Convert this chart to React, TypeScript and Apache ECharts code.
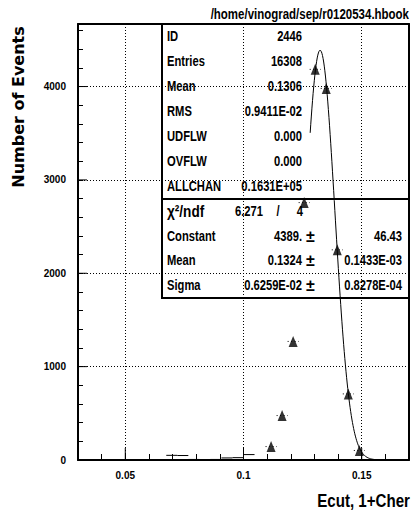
import React, { useEffect, useRef } from "react";
import * as echarts from "echarts";

// ---------- data ----------
const histMin = 0.03;
const histMax = 0.17;
const binCounts = [
  0, 0, 0, 0, 0, 0, 0, 0, 50, 48, 6, 4, 6, 22, 25, 58, 0,
  144, 476, 1270, 2757, 4184, 3980, 2251, 708, 102, 0, 0, 0, 0,
];
const markerThreshold = 100;
const xTickLabels = [0.05, 0.1, 0.15];
const yTickLabels = [0, 1000, 2000, 3000, 4000];
const yMax = 4670;

const fitConstant = 4389;
const fitMean = 0.1324;
const fitSigma = 0.006259;
const fitRange = [0.1282, 0.158];

const statsLabels = ["ID", "Entries", "Mean", "RMS", "UDFLW", "OVFLW", "ALLCHAN"];
const statsValues = ["2446", "16308", "0.1306", "0.9411E-02", "0.000", "0.000", "0.1631E+05"];
const fitLabels = ["Constant", "Mean", "Sigma"];
const fitValues = ["4389.", "0.1324", "0.6259E-02"];
const fitErrors = ["46.43", "0.1433E-03", "0.8278E-04"];
const chi2 = "6.271";
const ndf = "4";

const title = "/home/vinograd/sep/r0120534.hbook";
const xTitle = "Ecut, 1+Cher";
const yTitle = "Number of Events";

const SANS = '"Liberation Sans", Arial, Helvetica, sans-serif';
const WIDE = '"DejaVu Sans", "Liberation Sans", Arial, sans-serif';
const SQUEEZE = 0.8;

export default function App() {
  const ref = useRef<HTMLDivElement>(null);

  useEffect(() => {
    if (!ref.current) return;
    const chart = echarts.init(ref.current, undefined, { renderer: "svg" });

    const nb = binCounts.length;
    const bw = (histMax - histMin) / nb;
    const segs: any[] = [];
    const markers: any[] = [];
    binCounts.forEach((c, i) => {
      if (c <= 0) return;
      const x0 = histMin + i * bw;
      const x1 = x0 + bw;
      const big = c >= markerThreshold ? 1 : 0;
      segs.push([x0, x1, c, big]);
      if (big) markers.push([x0 + bw / 2, c]);
    });

    const fitPts: number[][] = [];
    const steps = 120;
    for (let k = 0; k <= steps; k++) {
      const x = fitRange[0] + ((fitRange[1] - fitRange[0]) * k) / steps;
      const z = (x - fitMean) / fitSigma;
      fitPts.push([x, fitConstant * Math.exp(-0.5 * z * z)]);
    }

    const gridLines: any[] = [];
    xTickLabels.forEach((v) => gridLines.push({ xAxis: v }));
    yTickLabels.filter((v) => v > 0).forEach((v) => gridLines.push({ yAxis: v }));

    const majorTicks: any[] = [];
    xTickLabels.forEach((v) => majorTicks.push([v, 0, 0]));
    yTickLabels.forEach((v) => majorTicks.push([histMin, v, 1]));

    const near = (v: number, arr: number[]) => arr.some((a) => Math.abs(a - v) < 1e-6);

    // stats box geometry (annotation layout)
    const bx = 162, bTop = 24, bDiv = 199, bBot = 298, bRight = 409;
    const rowH1 = (bDiv - bTop) / statsLabels.length;
    const rowH2 = (bBot - bDiv) / (fitLabels.length + 1);
    const txt = (x: number, y: number, text: string, align: string, size = 14, sx = SQUEEZE) => ({
      type: "text",
      x,
      y,
      scaleX: sx,
      silent: true,
      style: {
        text,
        fill: "#000",
        font: `bold ${size}px ${SANS}`,
        textAlign: align,
        textVerticalAlign: "middle",
      },
    });
    const graphics: any[] = [];
    graphics.push({
      type: "polyline",
      silent: true,
      shape: { points: [[bx, bTop], [bx, bBot], [bRight, bBot]] },
      style: { stroke: "#000", lineWidth: 2, fill: null },
    });
    graphics.push({
      type: "line",
      silent: true,
      shape: { x1: bx, y1: bDiv, x2: bRight, y2: bDiv },
      style: { stroke: "#000", lineWidth: 2 },
    });
    statsLabels.forEach((l, i) => {
      const y = bTop + rowH1 * (i + 0.5);
      graphics.push(txt(167, y, l, "left"));
      graphics.push(txt(302, y, statsValues[i], "right"));
    });
    {
      const y = bDiv + rowH2 * 0.5;
      graphics.push(txt(167, y, "χ²/ndf", "left", 16, 0.85));
      graphics.push(txt(235, y, chi2, "left"));
      graphics.push(txt(278, y, "/", "center"));
      graphics.push(txt(303, y, ndf, "right"));
    }
    fitLabels.forEach((l, i) => {
      const y = bDiv + rowH2 * (i + 1.5);
      graphics.push(txt(167, y, l, "left"));
      graphics.push(txt(302, y, fitValues[i], "right"));
      graphics.push(txt(310.5, y, "±", "center", 16, 1));
      graphics.push(txt(402, y, fitErrors[i], "right"));
    });
    graphics.push(txt(409, 14, title, "right", 14, 0.82));
    graphics.push(txt(410, 501, xTitle, "right", 18, 0.84));
    graphics.push({
      type: "text",
      x: 18,
      y: 107,
      rotation: Math.PI / 2,
      silent: true,
      style: {
        text: yTitle,
        fill: "#000",
        font: `bold 16px ${WIDE}`,
        textAlign: "center",
        textVerticalAlign: "middle",
      },
    });

    const option: any = {
      animation: false,
      backgroundColor: "#fff",
      grid: { left: 78, right: 2, top: 24, bottom: 60, containLabel: false },
      xAxis: [
        {
          type: "value",
          min: histMin,
          max: histMax,
          interval: 0.01,
          axisLine: { show: true, lineStyle: { color: "#000", width: 2 } },
          axisTick: { show: true, inside: true, length: 6, lineStyle: { color: "#000", width: 1 } },
          axisLabel: {
            margin: 10,
            color: "#000",
            fontFamily: SANS,
            fontWeight: "bold",
            fontSize: 10,
            showMinLabel: false,
            showMaxLabel: false,
            formatter: (v: number) => (near(v, xTickLabels) ? String(parseFloat(v.toFixed(4))) : ""),
          },
          splitLine: { show: false },
        },
        {
          type: "value",
          position: "top",
          min: histMin,
          max: histMax,
          axisLine: { show: true, onZero: false, lineStyle: { color: "#000", width: 2 } },
          axisTick: { show: false },
          axisLabel: { show: false },
          splitLine: { show: false },
        },
      ],
      yAxis: [
        {
          type: "value",
          min: 0,
          max: yMax,
          interval: 200,
          axisLine: { show: true, lineStyle: { color: "#000", width: 2 } },
          axisTick: { show: true, inside: true, length: 5, lineStyle: { color: "#000", width: 1 } },
          axisLabel: {
            margin: 12,
            color: "#000",
            fontFamily: SANS,
            fontWeight: "bold",
            fontSize: 10,
            formatter: (v: number) => (near(v, yTickLabels) ? String(Math.round(v)) : ""),
          },
          splitLine: { show: false },
        },
        {
          type: "value",
          position: "right",
          min: 0,
          max: yMax,
          axisLine: { show: true, onZero: false, lineStyle: { color: "#000", width: 2 } },
          axisTick: { show: false },
          axisLabel: { show: false },
          splitLine: { show: false },
        },
      ],
      series: [
        {
          type: "line",
          data: fitPts,
          showSymbol: false,
          symbol: "none",
          lineStyle: { color: "#000", width: 1 },
          z: 3,
          markLine: {
            silent: true,
            symbol: ["none", "none"],
            label: { show: false },
            lineStyle: { color: "#000", width: 1, type: [1, 2] },
            data: gridLines,
            z: 1,
          },
        },
        {
          type: "custom",
          data: segs,
          z: 4,
          renderItem: (params: any, api: any) => {
            const p0 = api.coord([api.value(0), api.value(2)]);
            const p1 = api.coord([api.value(1), api.value(2)]);
            const dashed = api.value(3) === 1;
            return {
              type: "line",
              shape: { x1: p0[0], y1: p0[1], x2: p1[0], y2: p1[1] },
              style: {
                stroke: "#000",
                lineWidth: 1,
                lineDash: dashed ? [1, 2.5] : null,
              },
            };
          },
        },
        {
          type: "custom",
          data: majorTicks,
          z: 4,
          renderItem: (params: any, api: any) => {
            const p = api.coord([api.value(0), api.value(1)]);
            const isY = api.value(2) === 1;
            return {
              type: "line",
              shape: isY
                ? { x1: p[0], y1: p[1], x2: p[0] + 9, y2: p[1] }
                : { x1: p[0], y1: p[1], x2: p[0], y2: p[1] - 12 },
              style: { stroke: "#000", lineWidth: 1 },
            };
          },
        },
        {
          type: "scatter",
          data: markers,
          symbol: "triangle",
          symbolSize: [9, 11],
          itemStyle: { color: "#000" },
          z: 5,
        },
      ],
      graphic: graphics,
    };

    chart.setOption(option);
    return () => chart.dispose();
  }, []);

  return (
    <div
      ref={ref}
      style={{ position: "absolute", left: 0, top: 0, width: 411, height: 520, background: "#fff" }}
    />
  );
}
